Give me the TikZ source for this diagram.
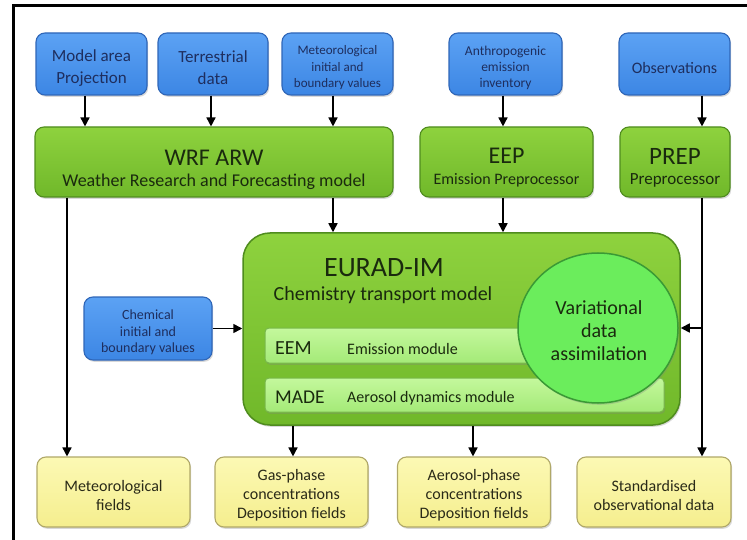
\documentclass[tikz,border=0pt]{standalone}
\usepackage{fontspec}
\setmainfont{Carlito}
\usetikzlibrary{arrows.meta,shapes.geometric,shadows}
\definecolor{bluetop}{HTML}{5CA2F4}
\definecolor{bluebot}{HTML}{3C86E4}
\definecolor{blueline}{HTML}{2F66B8}
\definecolor{bluetext}{HTML}{1E2E5E}
\definecolor{greentop}{HTML}{8ED23E}
\definecolor{greenbot}{HTML}{70B82A}
\definecolor{greenline}{HTML}{4F8C1E}
\definecolor{greentext}{HTML}{1A2A0E}
\definecolor{bartop}{HTML}{C4F89C}
\definecolor{barbot}{HTML}{A4EA78}
\definecolor{barline}{HTML}{78B84A}
\definecolor{circfill}{HTML}{6BED5C}
\definecolor{circline}{HTML}{3A9A35}
\definecolor{yeltop}{HTML}{FCF9B4}
\definecolor{yelbot}{HTML}{F5EE8E}
\definecolor{yelline}{HTML}{B0A868}
\definecolor{yeltext}{HTML}{2A2A18}
\tikzset{
  shad/.style={drop shadow={opacity=0.3,shadow xshift=1.2pt,shadow yshift=-1.8pt}},
  bluebox/.style={draw=blueline, line width=1.1pt, rounded corners=9pt,
    top color=bluetop, bottom color=bluebot, inner sep=0pt, minimum height=62pt, shad},
  greenbox/.style={draw=greenline, line width=1.1pt, rounded corners=9pt,
    top color=greentop, bottom color=greenbot, inner sep=0pt, minimum height=70pt, shad},
  yelbox/.style={draw=yelline, line width=1.1pt, rounded corners=9pt,
    top color=yeltop, bottom color=yelbot, inner sep=0pt, minimum height=70pt,
    minimum width=153pt, shad},
  barbox/.style={draw=barline, line width=1pt, rounded corners=4pt,
    top color=bartop, bottom color=barbot, inner sep=0pt, minimum height=35pt, shad},
  btxt/.style={text=bluetext, align=center, inner sep=0pt, yshift=-4pt},
  gtxt/.style={text=greentext, align=center, inner sep=0pt},
  ytxt/.style={text=yeltext, align=center, inner sep=0pt, yshift=-3.5pt,
    font=\fontsize{16}{19}\selectfont},
  lbl/.style={text=greentext, inner sep=0pt},
  arr/.style={draw=black, line width=1.6pt, -{Triangle[length=9pt,width=9pt]}},
}
\begin{document}
\begin{tikzpicture}[x=1pt,y=-1pt]
\useasboundingbox (0,0) rectangle (747,540);
\fill[white] (0,0) rectangle (747,540);
% frame
\draw[line width=3pt] (13.5,540) -- (13.5,5.5) -- (747,5.5);

% top inputs
\node[bluebox, minimum width=111pt] (m1) at (91.5,64) {};
\node[btxt, font=\fontsize{17}{22}\selectfont] (m1t) at (m1.center) {Model area\\Projection};
\node[bluebox, minimum width=110pt] (m2) at (213,64) {};
\node[btxt, font=\fontsize{17}{22}\selectfont] (m2t) at (m2.center) {Terrestrial\\data};
\node[bluebox, minimum width=111pt] (m3) at (337.5,64) {};
\node[btxt, font=\fontsize{13}{16.5}\selectfont] (m3t) at (m3.center) {Meteorological\\initial and\\boundary values};
\node[bluebox, minimum width=113pt] (m4) at (505.5,64) {};
\node[btxt, font=\fontsize{13.5}{16}\selectfont] (m4t) at (m4.center) {Anthropogenic\\emission\\inventory};
\node[bluebox, minimum width=111pt] (m5) at (674.5,64) {};
\node[btxt, font=\fontsize{16}{19}\selectfont] (m5t) at (m5.center) {Observations};

% preprocessors
\node[greenbox, minimum width=358pt] (wrf) at (214,162) {};
\node[gtxt, font=\fontsize{24}{26}\selectfont] (wrft1) at (214,158) {WRF ARW};
\node[gtxt, font=\fontsize{18}{20}\selectfont] (wrft2) at (214,182) {Weather Research and Forecasting model};
\node[greenbox, minimum width=173pt] (eep) at (506.5,162) {};
\node[gtxt, font=\fontsize{24}{26}\selectfont] (eept1) at (506.5,156) {EEP};
\node[gtxt, font=\fontsize{16}{20}\selectfont] (eept2) at (506.5,180) {Emission Preprocessor};
\node[greenbox, minimum width=110pt] (prep) at (675,162) {};
\node[gtxt, font=\fontsize{25}{26}\selectfont] (prept1) at (675,156) {PREP};
\node[gtxt, font=\fontsize{17}{20}\selectfont] (prept2) at (675,180) {Preprocessor};

% EURAD-IM
\node[draw=greenline, line width=1.5pt, rounded corners=27pt, top color=greentop, bottom color=greenbot,
  minimum width=437pt, minimum height=192pt, inner sep=0pt, shad] (eurad) at (461.5,329) {};
\node[lbl, font=\fontsize{28}{30}\selectfont] (title) at (384,268) {EURAD-IM};
\node[lbl, font=\fontsize{20}{22}\selectfont] (sub) at (383,295) {Chemistry transport model};
\node[barbox, minimum width=355pt] (eembar) at (442.5,345.5) {};
\node[barbox, minimum width=399pt, minimum height=34pt] (madebar) at (464.5,395) {};
\node[lbl, anchor=west, font=\fontsize{20}{22}\selectfont] (eem) at (275,348) {EEM};
\node[lbl, anchor=west, font=\fontsize{16}{18}\selectfont] (eemt) at (347,349) {Emission module};
\node[lbl, anchor=west, font=\fontsize{19.5}{22}\selectfont] (made) at (275,397) {MADE};
\node[lbl, anchor=west, font=\fontsize{16}{18}\selectfont] (madet) at (347,398) {Aerosol dynamics module};
\node[ellipse, draw=circline, line width=1.5pt, fill=circfill, minimum width=160pt, minimum height=150pt,
  inner sep=0pt, shad] (var) at (598,328) {};
\node[gtxt, font=\fontsize{20}{23}\selectfont] (vart) at (599,331) {Variational\\data\\assimilation};

% chemical input
\node[bluebox, minimum width=128pt, minimum height=63pt] (chem) at (148,328.5) {};
\node[btxt, font=\fontsize{14}{16.5}\selectfont] (chemt) at (chem.center) {Chemical\\initial and\\boundary values};

% outputs
\node[yelbox] (o1) at (113.5,492) {};
\node[ytxt] (o1t) at (o1.center) {Meteorological\\fields};
\node[yelbox] (o2) at (291.5,492) {};
\node[ytxt] (o2t) at (o2.center) {Gas-phase\\concentrations\\Deposition fields};
\node[yelbox] (o3) at (474,492) {};
\node[ytxt] (o3t) at (o3.center) {Aerosol-phase\\concentrations\\Deposition fields};
\node[yelbox, minimum width=154pt] (o4) at (654,492) {};
\node[ytxt] (o4t) at (o4.center) {Standardised\\observational data};

% connectors
\draw[arr] (m1.south -| 85,0) -- (wrf.north -| 85,0);
\draw[arr] (m2.south -| 211,0) -- (wrf.north -| 211,0);
\draw[arr] (m3.south -| 333,0) -- (wrf.north -| 333,0);
\draw[arr] (m4.south -| 503,0) -- (eep.north -| 503,0);
\draw[arr] (m5.south -| 702,0) -- (prep.north -| 702,0);
\draw[arr] (wrf.south -| 333,0) -- (eurad.north -| 333,0);
\draw[arr] (eep.south -| 503,0) -- (eurad.north -| 503,0);
\draw[arr] (wrf.south -| 67,0) -- (o1.north -| 67,0);
\draw[arr] (prep.south -| 702,0) -- (o4.north -| 702,0);
\coordinate (br) at (702,328);
\draw[arr] (br) -- (eurad.east |- br);
\draw[arr] (chem.east) -- (eurad.west |- chem.east);
\draw[arr] (eurad.south -| 293,0) -- (o2.north -| 293,0);
\draw[arr] (eurad.south -| 473,0) -- (o3.north -| 473,0);
\end{tikzpicture}
\end{document}
